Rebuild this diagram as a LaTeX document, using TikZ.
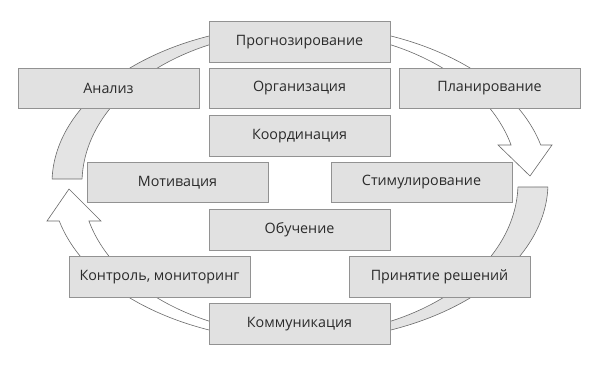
\documentclass[tikz,border=0pt]{standalone}
\usepackage{fontspec}
\setmainfont{Open Sans}
\definecolor{boxfill}{HTML}{E1E1E1}
\definecolor{boxline}{HTML}{929292}
\definecolor{bandfill}{HTML}{E4E4E4}
\definecolor{bandline}{HTML}{6A6A6A}
\definecolor{txt}{HTML}{2A2A2A}
\begin{document}
\begin{tikzpicture}[x=1pt,y=-1pt,
  stagebox/.style={draw=boxline,fill=boxfill,line width=1pt,minimum width=181pt,minimum height=40.5pt,
    inner sep=0pt,text=txt,font=\fontsize{14.3}{17}\selectfont},
  band/.style={draw=bandline,fill=bandfill,line width=0.6pt,line join=round},
  arrowband/.style={draw=bandline,fill=white,line width=0.6pt,line join=miter}]
\useasboundingbox (0,0) rectangle (599,366);
% left-top band
\draw[band] plot[domain=181.45:260,samples=60] ({300+248*cos(\x)},{183+158*sin(\x)})
  -- plot[domain=260:181.5,samples=60] ({300+218*cos(\x)},{183+152*sin(\x)}) -- cycle;
% right-top arrow
\coordinate (rtw1) at (552,145);
\coordinate (rtt) at (530,176);
\coordinate (rtw2) at (498,145);
\draw[arrowband] plot[domain=280:346.08,samples=60] ({300+248*cos(\x)},{183+158*sin(\x)})
  -- (rtw1) -- (rtt) -- (rtw2)
  -- plot[domain=345.52:280,samples=60] ({300+218*cos(\x)},{183+152*sin(\x)}) -- cycle;
% right-bottom band
\draw[band] plot[domain=1.45:80,samples=60] ({300+248*cos(\x)},{183+158*sin(\x)})
  -- plot[domain=80:1.51,samples=60] ({300+218*cos(\x)},{183+152*sin(\x)}) -- cycle;
% left-bottom arrow
\coordinate (lbw1) at (47,221);
\coordinate (lbt) at (69,189);
\coordinate (lbw2) at (101,221);
\draw[arrowband] plot[domain=100:166.08,samples=60] ({300+248*cos(\x)},{183+158*sin(\x)})
  -- (lbw1) -- (lbt) -- (lbw2)
  -- plot[domain=165.52:100,samples=60] ({300+218*cos(\x)},{183+152*sin(\x)}) -- cycle;
% boxes
\node[stagebox] (prog) at (299.5,42) {Прогнозирование};
\node[stagebox] (anal) at (108.5,88.5) {Анализ};
\node[stagebox] (org) at (299.5,88.5) {Организация};
\node[stagebox] (plan) at (489.5,88.5) {Планирование};
\node[stagebox] (coord) at (299.5,136) {Координация};
\node[stagebox] (motiv) at (177.5,182.5) {Мотивация};
\node[stagebox] (stim) at (421.5,182.5) {Стимулирование};
\node[stagebox] (obuch) at (299.5,230) {Обучение};
\node[stagebox] (kontr) at (159.5,277) {Контроль, мониторинг};
\node[stagebox] (prin) at (439.5,277) {Принятие решений};
\node[stagebox] (komm) at (299.5,324) {Коммуникация};
\end{tikzpicture}
\end{document}
